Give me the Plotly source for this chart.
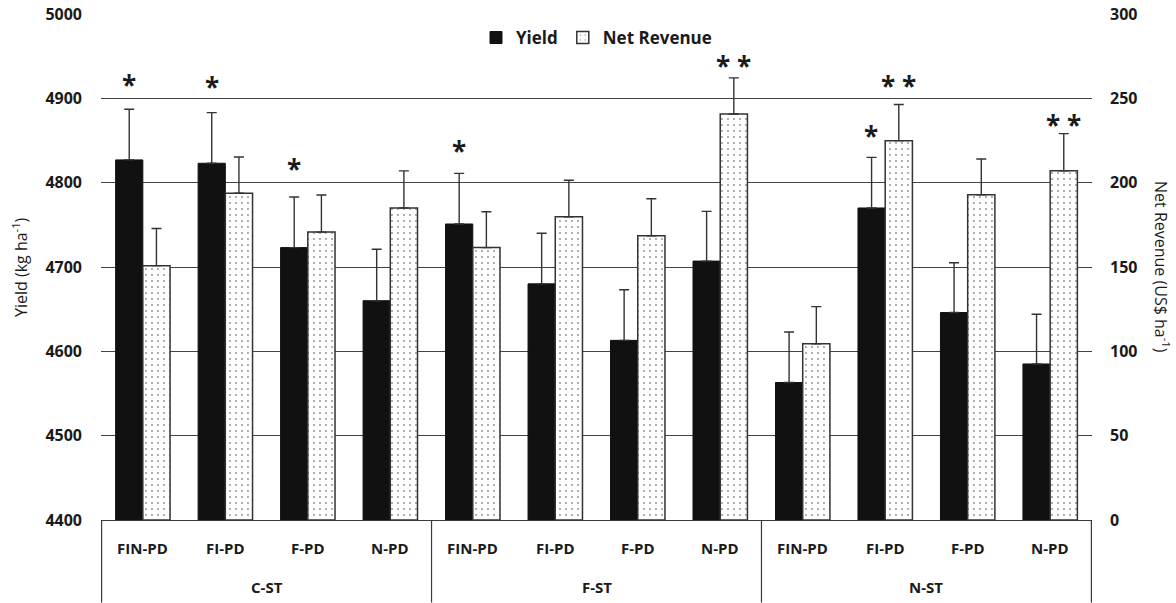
import plotly.graph_objects as go

groups = ["C-ST", "F-ST", "N-ST"]
subcats = ["FIN-PD", "FI-PD", "F-PD", "N-PD"]

yield_vals = [4827, 4823, 4723, 4660, 4751, 4680, 4613, 4707, 4563, 4770, 4646, 4585]
yield_err = [60, 60, 60, 61, 60, 60, 60, 59, 60, 60, 59, 59]
revenue_vals = [150.8, 193.7, 170.7, 185.0, 161.5, 179.8, 168.5, 240.7, 104.5, 224.9, 192.8, 207.1]
revenue_err = [22, 21.5, 22, 22, 21.3, 21.6, 22, 21.4, 22, 21.4, 21.2, 22]

# significance markers: (category index, series, text, label height in that series' units)
sig_labels = [
    (0, "yield", "*", 4919),
    (1, "yield", "*", 4917),
    (2, "yield", "*", 4820),
    (4, "yield", "*", 4841),
    (7, "revenue", "* *", 271),
    (9, "yield", "*", 4859),
    (9, "revenue", "* *", 259),
    (11, "revenue", "* *", 236),
]

yield_ticks = [4400, 4500, 4600, 4700, 4800, 4900, 5000]
revenue_ticks = [0, 50, 100, 150, 200, 250, 300]

x_parent = [g for g in groups for _ in subcats]
x_child = [s for _ in groups for s in subcats]
x = [x_parent, x_child]

FONT = "Open Sans"
TXT = "#1a1a1a"
LINE = "#3a3a3a"

fig = go.Figure()
fig.add_trace(go.Bar(
    x=x, y=yield_vals, name="Yield", yaxis="y", offsetgroup="1",
    marker=dict(color="#111111", line=dict(color="#111111", width=1)),
    error_y=dict(type="data", array=yield_err, arrayminus=[0] * len(yield_err),
                 symmetric=False, color="#333333", thickness=1.4, width=5),
))
fig.add_trace(go.Bar(
    x=x, y=revenue_vals, name="Net Revenue", yaxis="y2", offsetgroup="2",
    marker=dict(color="white", line=dict(color="#333333", width=1.5),
                pattern=dict(shape=".", fgcolor="#222222", bgcolor="white",
                             size=6, solidity=0.08)),
    error_y=dict(type="data", array=revenue_err, arrayminus=[0] * len(revenue_err),
                 symmetric=False, color="#333333", thickness=1.4, width=5),
))

annotations = []
for idx, series, txt, h in sig_labels:
    annotations.append(dict(
        x=idx, y=h, xref="x", yref="y" if series == "yield" else "y2",
        text=txt, showarrow=False, xshift=-13.7 if series == "yield" else 13.7,
        yshift=-3, font=dict(family=FONT, size=26, color=TXT, weight="bold"),
    ))

# category labels (two levels) drawn on the x axis scale
n_sub = len(subcats)
for i, lab in enumerate(x_child):
    annotations.append(dict(
        x=i, y=0, xref="x", yref="paper", yanchor="middle", yshift=-28,
        text=lab, showarrow=False,
        font=dict(family=FONT, size=15, color=TXT, weight="bold"),
    ))
for gi, g in enumerate(groups):
    annotations.append(dict(
        x=gi * n_sub + (n_sub - 1) / 2, y=0, xref="x", yref="paper",
        yanchor="middle", yshift=-67, text=g, showarrow=False,
        font=dict(family=FONT, size=15, color=TXT, weight="bold"),
    ))

shapes = []
for gi in range(len(groups) + 1):
    shapes.append(dict(
        type="line", xref="x", yref="paper", x0=gi * n_sub - 0.5, x1=gi * n_sub - 0.5,
        y0=0, y1=-0.163, line=dict(color=LINE, width=1.2),
    ))

annotations.append(dict(
    x=1.0, xref="paper", xanchor="center", xshift=70, y=0.5, yref="paper",
    text="Net Revenue (US$ ha<sup>-1</sup>)", textangle=90, showarrow=False,
    font=dict(family=FONT, size=16, color=TXT),
))
annotations.append(dict(
    x=0.0, xref="paper", xanchor="center", xshift=-81, y=0.5, yref="paper",
    text="Yield (kg ha<sup>-1</sup>)", textangle=-90, showarrow=False,
    font=dict(family=FONT, size=16, color=TXT),
))

fig.update_layout(
    width=1176, height=603,
    margin=dict(l=101, r=84, t=14, b=83),
    paper_bgcolor="white", plot_bgcolor="white",
    barmode="group", bargap=0.34, bargroupgap=0,
    font=dict(family=FONT, color=TXT),
    showlegend=True,
    legend=dict(orientation="h", x=0.5, xanchor="center", y=0.9526, yanchor="middle",
                font=dict(family=FONT, size=17, color=TXT, weight="bold"),
                bgcolor="rgba(0,0,0,0)", itemwidth=30, tracegroupgap=0),
    xaxis=dict(
        type="multicategory", showline=True, linecolor=LINE, linewidth=1.2,
        showgrid=False, ticks="", showdividers=False, showticklabels=False,
        automargin=False,
    ),
    yaxis=dict(
        range=[4400, 5000], tickvals=yield_ticks, showgrid=True, gridcolor="#444444",
        gridwidth=1, zeroline=False, showline=False, ticks="", automargin=False,
        tickfont=dict(family=FONT, size=16, color=TXT, weight="bold"),
        ticklabelstandoff=18,
    ),
    yaxis2=dict(
        range=[0, 300], tickvals=revenue_ticks, overlaying="y", side="right",
        showgrid=False, zeroline=False, showline=False, ticks="", automargin=False,
        ticklabelstandoff=17,
        tickfont=dict(family=FONT, size=16, color=TXT, weight="bold"),
    ),
    annotations=annotations,
    shapes=shapes,
)

fig.write_html(
    "out.html",
    config={"displayModeBar": False},
    post_script="document.body.style.margin='0';document.body.style.padding='0';",
)
